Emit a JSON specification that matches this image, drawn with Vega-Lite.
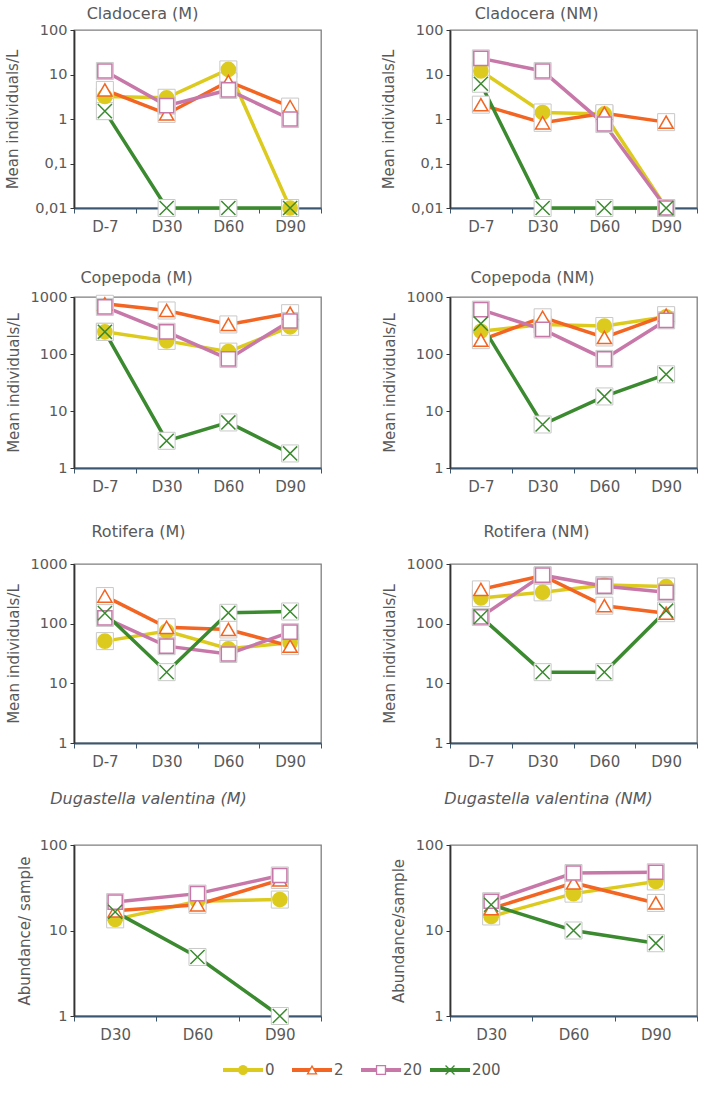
{
  "$schema": "https://vega.github.io/schema/vega-lite/v6.json",
  "padding": {"left": 5, "top": 5, "right": 5, "bottom": 5},
  "background": "white",
  "config": {
    "font": "DejaVu Sans",
    "view": {"stroke": "#7f7f7f", "strokeWidth": 1.3},
    "title": {"fontSize": 16, "fontWeight": "normal", "color": "#595959", "font": "DejaVu Sans", "frame": "group", "anchor": "middle"},
    "axisY": {"domainColor": "#333333", "domainWidth": 1.8, "tickColor": "#333333", "tickSize": 4, "labelColor": "#595959", "labelFontSize": 14.5, "labelPadding": 3, "titleColor": "#595959", "titleFontSize": 15, "titleFontWeight": "normal", "titlePadding": 9, "grid": false},
    "axisX": {"domainColor": "#3b5670", "domainWidth": 1.8, "tickColor": "#3b5670", "tickSize": 5, "tickBand": "extent", "labelColor": "#595959", "labelFontSize": 15, "labelPadding": 6, "labelAngle": 0, "grid": false}
  },
  "datasets": {
    "main": [
      {"p":"CM","d":"D-7","g":"0","v":3.2},{"p":"CM","d":"D30","g":"0","v":3.0},{"p":"CM","d":"D60","g":"0","v":13},{"p":"CM","d":"D90","g":"0","v":0.01},
      {"p":"CM","d":"D-7","g":"2","v":4.5},{"p":"CM","d":"D30","g":"2","v":1.3},{"p":"CM","d":"D60","g":"2","v":7},{"p":"CM","d":"D90","g":"2","v":1.9},
      {"p":"CM","d":"D-7","g":"20","v":12},{"p":"CM","d":"D30","g":"20","v":2.0},{"p":"CM","d":"D60","g":"20","v":4.5},{"p":"CM","d":"D90","g":"20","v":1.0},
      {"p":"CM","d":"D-7","g":"200","v":1.5},{"p":"CM","d":"D30","g":"200","v":0.01},{"p":"CM","d":"D60","g":"200","v":0.01},{"p":"CM","d":"D90","g":"200","v":0.01},

      {"p":"CNM","d":"D-7","g":"0","v":12},{"p":"CNM","d":"D30","g":"0","v":1.4},{"p":"CNM","d":"D60","g":"0","v":1.3},{"p":"CNM","d":"D90","g":"0","v":0.01},
      {"p":"CNM","d":"D-7","g":"2","v":2.1},{"p":"CNM","d":"D30","g":"2","v":0.82},{"p":"CNM","d":"D60","g":"2","v":1.35},{"p":"CNM","d":"D90","g":"2","v":0.85},
      {"p":"CNM","d":"D-7","g":"20","v":23},{"p":"CNM","d":"D30","g":"20","v":12},{"p":"CNM","d":"D60","g":"20","v":0.77},{"p":"CNM","d":"D90","g":"20","v":0.01},
      {"p":"CNM","d":"D-7","g":"200","v":6.2},{"p":"CNM","d":"D30","g":"200","v":0.01},{"p":"CNM","d":"D60","g":"200","v":0.01},{"p":"CNM","d":"D90","g":"200","v":0.01},

      {"p":"PM","d":"D-7","g":"0","v":245},{"p":"PM","d":"D30","g":"0","v":170},{"p":"PM","d":"D60","g":"0","v":110},{"p":"PM","d":"D90","g":"0","v":300},
      {"p":"PM","d":"D-7","g":"2","v":760},{"p":"PM","d":"D30","g":"2","v":580},{"p":"PM","d":"D60","g":"2","v":330},{"p":"PM","d":"D90","g":"2","v":520},
      {"p":"PM","d":"D-7","g":"20","v":670},{"p":"PM","d":"D30","g":"20","v":245},{"p":"PM","d":"D60","g":"20","v":82},{"p":"PM","d":"D90","g":"20","v":380},
      {"p":"PM","d":"D-7","g":"200","v":245},{"p":"PM","d":"D30","g":"200","v":3.0},{"p":"PM","d":"D60","g":"200","v":6.3},{"p":"PM","d":"D90","g":"200","v":1.8},

      {"p":"PNM","d":"D-7","g":"0","v":250},{"p":"PNM","d":"D30","g":"0","v":330},{"p":"PNM","d":"D60","g":"0","v":310},{"p":"PNM","d":"D90","g":"0","v":450},
      {"p":"PNM","d":"D-7","g":"2","v":175},{"p":"PNM","d":"D30","g":"2","v":440},{"p":"PNM","d":"D60","g":"2","v":195},{"p":"PNM","d":"D90","g":"2","v":480},
      {"p":"PNM","d":"D-7","g":"20","v":600},{"p":"PNM","d":"D30","g":"20","v":270},{"p":"PNM","d":"D60","g":"20","v":82},{"p":"PNM","d":"D90","g":"20","v":390},
      {"p":"PNM","d":"D-7","g":"200","v":340},{"p":"PNM","d":"D30","g":"200","v":5.8},{"p":"PNM","d":"D60","g":"200","v":18},{"p":"PNM","d":"D90","g":"200","v":44},

      {"p":"RM","d":"D-7","g":"0","v":51},{"p":"RM","d":"D30","g":"0","v":75},{"p":"RM","d":"D60","g":"0","v":38},{"p":"RM","d":"D90","g":"0","v":48},
      {"p":"RM","d":"D-7","g":"2","v":290},{"p":"RM","d":"D30","g":"2","v":87},{"p":"RM","d":"D60","g":"2","v":80},{"p":"RM","d":"D90","g":"2","v":42},
      {"p":"RM","d":"D-7","g":"20","v":125},{"p":"RM","d":"D30","g":"20","v":42},{"p":"RM","d":"D60","g":"20","v":31},{"p":"RM","d":"D90","g":"20","v":72},
      {"p":"RM","d":"D-7","g":"200","v":150},{"p":"RM","d":"D30","g":"200","v":15.4},{"p":"RM","d":"D60","g":"200","v":152},{"p":"RM","d":"D90","g":"200","v":160},

      {"p":"RNM","d":"D-7","g":"0","v":270},{"p":"RNM","d":"D30","g":"0","v":335},{"p":"RNM","d":"D60","g":"0","v":445},{"p":"RNM","d":"D90","g":"0","v":420},
      {"p":"RNM","d":"D-7","g":"2","v":375},{"p":"RNM","d":"D30","g":"2","v":640},{"p":"RNM","d":"D60","g":"2","v":200},{"p":"RNM","d":"D90","g":"2","v":150},
      {"p":"RNM","d":"D-7","g":"20","v":130},{"p":"RNM","d":"D30","g":"20","v":650},{"p":"RNM","d":"D60","g":"20","v":425},{"p":"RNM","d":"D90","g":"20","v":335},
      {"p":"RNM","d":"D-7","g":"200","v":130},{"p":"RNM","d":"D30","g":"200","v":15.4},{"p":"RNM","d":"D60","g":"200","v":15.4},{"p":"RNM","d":"D90","g":"200","v":165},

      {"p":"DM","d":"D30","g":"0","v":13.5},{"p":"DM","d":"D60","g":"0","v":22},{"p":"DM","d":"D90","g":"0","v":23},
      {"p":"DM","d":"D30","g":"2","v":17},{"p":"DM","d":"D60","g":"2","v":20},{"p":"DM","d":"D90","g":"2","v":39},
      {"p":"DM","d":"D30","g":"20","v":21.5},{"p":"DM","d":"D60","g":"20","v":27},{"p":"DM","d":"D90","g":"20","v":44},
      {"p":"DM","d":"D30","g":"200","v":16.5},{"p":"DM","d":"D60","g":"200","v":4.9},{"p":"DM","d":"D90","g":"200","v":1},

      {"p":"DNM","d":"D30","g":"0","v":14.6},{"p":"DNM","d":"D60","g":"0","v":27},{"p":"DNM","d":"D90","g":"0","v":37.5},
      {"p":"DNM","d":"D30","g":"2","v":18},{"p":"DNM","d":"D60","g":"2","v":36},{"p":"DNM","d":"D90","g":"2","v":21},
      {"p":"DNM","d":"D30","g":"20","v":22},{"p":"DNM","d":"D60","g":"20","v":47},{"p":"DNM","d":"D90","g":"20","v":48},
      {"p":"DNM","d":"D30","g":"200","v":20},{"p":"DNM","d":"D60","g":"200","v":10},{"p":"DNM","d":"D90","g":"200","v":7.1}
    ],
    "leg": [{"g":"0"},{"g":"2"},{"g":"20"},{"g":"200"}]
  },
  "data": {"name": "main"},
  "spacing": 10,
  "vconcat": [
    {
      "bounds": "flush",
      "spacing": 129,
      "hconcat": [
        {
          "title": {"text": "Cladocera (M)", "dx": -55, "offset": 0},
          "width": 247, "height": 178,
          "transform": [{"filter": "datum.p === 'CM'"}],
          "encoding": {
            "x": {"field": "d", "type": "nominal", "sort": ["D-7","D30","D60","D90"], "bandPosition": 0.5, "scale": {"type": "band", "paddingInner": 0, "paddingOuter": 0}, "axis": {"title": null}},
            "y": {"field": "v", "type": "quantitative", "scale": {"type": "log", "domain": [0.01, 100], "nice": false}, "axis": {"title": "Mean individuals/L", "titlePadding": 14, "values": [0.01, 0.1, 1, 10, 100], "labelExpr": "replace(format(datum.value,'~g'),'.',',')"}}
          },
          "layer": [
            {"mark": {"type": "line", "strokeWidth": 3.5}, "encoding": {"stroke": {"field": "g", "type": "nominal", "scale": {"domain": ["0","2","20","200"], "range": ["#dccb1e","#f26522","#c778a9","#3b8a30"]}, "legend": null}}},
            {"mark": {"type": "point", "shape": "square", "size": 290, "filled": true, "fill": "#ffffff", "stroke": "#c9c9c9", "strokeWidth": 1, "opacity": 1}, "encoding": {"detail": {"field": "g", "type": "nominal"}}},
            {"mark": {"type": "point", "filled": true, "opacity": 1, "strokeWidth": 1.5, "size": 200}, "encoding": {
              "shape": {"field": "g", "type": "nominal", "scale": {"domain": ["0","2","20","200"], "range": ["circle","triangle-up","square","M-1,-1L1,1M-1,1L1,-1"]}, "legend": null},
              "stroke": {"field": "g", "type": "nominal", "scale": {"domain": ["0","2","20","200"], "range": ["#dccb1e","#f26522","#c778a9","#3b8a30"]}, "legend": null},
              "fill": {"field": "g", "type": "nominal", "scale": {"domain": ["0","2","20","200"], "range": ["#dccb1e","#ffffff","#ffffff","#ffffff"]}, "legend": null}}}
          ]
        },
        {
          "title": {"text": "Cladocera (NM)", "dx": -37, "offset": 0},
          "width": 247, "height": 178,
          "transform": [{"filter": "datum.p === 'CNM'"}],
          "encoding": {
            "x": {"field": "d", "type": "nominal", "sort": ["D-7","D30","D60","D90"], "bandPosition": 0.5, "scale": {"type": "band", "paddingInner": 0, "paddingOuter": 0}, "axis": {"title": null}},
            "y": {"field": "v", "type": "quantitative", "scale": {"type": "log", "domain": [0.01, 100], "nice": false}, "axis": {"title": "Mean individuals/L", "titlePadding": 14, "values": [0.01, 0.1, 1, 10, 100], "labelExpr": "replace(format(datum.value,'~g'),'.',',')"}}
          },
          "layer": [
            {"mark": {"type": "line", "strokeWidth": 3.5}, "encoding": {"stroke": {"field": "g", "type": "nominal", "scale": {"domain": ["0","2","20","200"], "range": ["#dccb1e","#f26522","#c778a9","#3b8a30"]}, "legend": null}}},
            {"mark": {"type": "point", "shape": "square", "size": 290, "filled": true, "fill": "#ffffff", "stroke": "#c9c9c9", "strokeWidth": 1, "opacity": 1}, "encoding": {"detail": {"field": "g", "type": "nominal"}}},
            {"mark": {"type": "point", "filled": true, "opacity": 1, "strokeWidth": 1.5, "size": 200}, "encoding": {
              "shape": {"field": "g", "type": "nominal", "scale": {"domain": ["0","2","20","200"], "range": ["circle","triangle-up","square","M-1,-1L1,1M-1,1L1,-1"]}, "legend": null},
              "stroke": {"field": "g", "type": "nominal", "scale": {"domain": ["0","2","20","200"], "range": ["#dccb1e","#f26522","#c778a9","#3b8a30"]}, "legend": null},
              "fill": {"field": "g", "type": "nominal", "scale": {"domain": ["0","2","20","200"], "range": ["#dccb1e","#ffffff","#ffffff","#ffffff"]}, "legend": null}}}
          ]
        }
      ]
    },
    {
      "bounds": "flush",
      "spacing": 129,
      "hconcat": [
        {
          "title": {"text": ["", "Copepoda (M)"], "lineHeight": 24, "dx": -61, "offset": 3},
          "width": 247, "height": 171,
          "transform": [{"filter": "datum.p === 'PM'"}],
          "encoding": {
            "x": {"field": "d", "type": "nominal", "sort": ["D-7","D30","D60","D90"], "bandPosition": 0.5, "scale": {"type": "band", "paddingInner": 0, "paddingOuter": 0}, "axis": {"title": null}},
            "y": {"field": "v", "type": "quantitative", "scale": {"type": "log", "domain": [1, 1000], "nice": false}, "axis": {"title": "Mean individuals/L", "values": [1, 10, 100, 1000], "labelExpr": "replace(format(datum.value,'~g'),'.',',')"}}
          },
          "layer": [
            {"mark": {"type": "line", "strokeWidth": 3.5}, "encoding": {"stroke": {"field": "g", "type": "nominal", "scale": {"domain": ["0","2","20","200"], "range": ["#dccb1e","#f26522","#c778a9","#3b8a30"]}, "legend": null}}},
            {"mark": {"type": "point", "shape": "square", "size": 290, "filled": true, "fill": "#ffffff", "stroke": "#c9c9c9", "strokeWidth": 1, "opacity": 1}, "encoding": {"detail": {"field": "g", "type": "nominal"}}},
            {"mark": {"type": "point", "filled": true, "opacity": 1, "strokeWidth": 1.5, "size": 200}, "encoding": {
              "shape": {"field": "g", "type": "nominal", "scale": {"domain": ["0","2","20","200"], "range": ["circle","triangle-up","square","M-1,-1L1,1M-1,1L1,-1"]}, "legend": null},
              "stroke": {"field": "g", "type": "nominal", "scale": {"domain": ["0","2","20","200"], "range": ["#dccb1e","#f26522","#c778a9","#3b8a30"]}, "legend": null},
              "fill": {"field": "g", "type": "nominal", "scale": {"domain": ["0","2","20","200"], "range": ["#dccb1e","#ffffff","#ffffff","#ffffff"]}, "legend": null}}}
          ]
        },
        {
          "title": {"text": ["", "Copepoda (NM)"], "lineHeight": 24, "dx": -41, "offset": 3},
          "width": 247, "height": 171,
          "transform": [{"filter": "datum.p === 'PNM'"}],
          "encoding": {
            "x": {"field": "d", "type": "nominal", "sort": ["D-7","D30","D60","D90"], "bandPosition": 0.5, "scale": {"type": "band", "paddingInner": 0, "paddingOuter": 0}, "axis": {"title": null}},
            "y": {"field": "v", "type": "quantitative", "scale": {"type": "log", "domain": [1, 1000], "nice": false}, "axis": {"title": "Mean individuals/L", "values": [1, 10, 100, 1000], "labelExpr": "replace(format(datum.value,'~g'),'.',',')"}}
          },
          "layer": [
            {"mark": {"type": "line", "strokeWidth": 3.5}, "encoding": {"stroke": {"field": "g", "type": "nominal", "scale": {"domain": ["0","2","20","200"], "range": ["#dccb1e","#f26522","#c778a9","#3b8a30"]}, "legend": null}}},
            {"mark": {"type": "point", "shape": "square", "size": 290, "filled": true, "fill": "#ffffff", "stroke": "#c9c9c9", "strokeWidth": 1, "opacity": 1}, "encoding": {"detail": {"field": "g", "type": "nominal"}}},
            {"mark": {"type": "point", "filled": true, "opacity": 1, "strokeWidth": 1.5, "size": 200}, "encoding": {
              "shape": {"field": "g", "type": "nominal", "scale": {"domain": ["0","2","20","200"], "range": ["circle","triangle-up","square","M-1,-1L1,1M-1,1L1,-1"]}, "legend": null},
              "stroke": {"field": "g", "type": "nominal", "scale": {"domain": ["0","2","20","200"], "range": ["#dccb1e","#f26522","#c778a9","#3b8a30"]}, "legend": null},
              "fill": {"field": "g", "type": "nominal", "scale": {"domain": ["0","2","20","200"], "range": ["#dccb1e","#ffffff","#ffffff","#ffffff"]}, "legend": null}}}
          ]
        }
      ]
    },
    {
      "bounds": "flush",
      "spacing": 129,
      "hconcat": [
        {
          "title": {"text": ["", "Rotifera (M)"], "lineHeight": 18, "dx": -59, "offset": 16},
          "width": 247, "height": 179,
          "transform": [{"filter": "datum.p === 'RM'"}],
          "encoding": {
            "x": {"field": "d", "type": "nominal", "sort": ["D-7","D30","D60","D90"], "bandPosition": 0.5, "scale": {"type": "band", "paddingInner": 0, "paddingOuter": 0}, "axis": {"title": null}},
            "y": {"field": "v", "type": "quantitative", "scale": {"type": "log", "domain": [1, 1000], "nice": false}, "axis": {"title": "Mean individuals/L", "values": [1, 10, 100, 1000], "labelExpr": "replace(format(datum.value,'~g'),'.',',')"}}
          },
          "layer": [
            {"mark": {"type": "line", "strokeWidth": 3.5}, "encoding": {"stroke": {"field": "g", "type": "nominal", "scale": {"domain": ["0","2","20","200"], "range": ["#dccb1e","#f26522","#c778a9","#3b8a30"]}, "legend": null}}},
            {"mark": {"type": "point", "shape": "square", "size": 290, "filled": true, "fill": "#ffffff", "stroke": "#c9c9c9", "strokeWidth": 1, "opacity": 1}, "encoding": {"detail": {"field": "g", "type": "nominal"}}},
            {"mark": {"type": "point", "filled": true, "opacity": 1, "strokeWidth": 1.5, "size": 200}, "encoding": {
              "shape": {"field": "g", "type": "nominal", "scale": {"domain": ["0","2","20","200"], "range": ["circle","triangle-up","square","M-1,-1L1,1M-1,1L1,-1"]}, "legend": null},
              "stroke": {"field": "g", "type": "nominal", "scale": {"domain": ["0","2","20","200"], "range": ["#dccb1e","#f26522","#c778a9","#3b8a30"]}, "legend": null},
              "fill": {"field": "g", "type": "nominal", "scale": {"domain": ["0","2","20","200"], "range": ["#dccb1e","#ffffff","#ffffff","#ffffff"]}, "legend": null}}}
          ]
        },
        {
          "title": {"text": ["", "Rotifera (NM)"], "lineHeight": 18, "dx": -37, "offset": 16},
          "width": 247, "height": 179,
          "transform": [{"filter": "datum.p === 'RNM'"}],
          "encoding": {
            "x": {"field": "d", "type": "nominal", "sort": ["D-7","D30","D60","D90"], "bandPosition": 0.5, "scale": {"type": "band", "paddingInner": 0, "paddingOuter": 0}, "axis": {"title": null}},
            "y": {"field": "v", "type": "quantitative", "scale": {"type": "log", "domain": [1, 1000], "nice": false}, "axis": {"title": "Mean individuals/L", "values": [1, 10, 100, 1000], "labelExpr": "replace(format(datum.value,'~g'),'.',',')"}}
          },
          "layer": [
            {"mark": {"type": "line", "strokeWidth": 3.5}, "encoding": {"stroke": {"field": "g", "type": "nominal", "scale": {"domain": ["0","2","20","200"], "range": ["#dccb1e","#f26522","#c778a9","#3b8a30"]}, "legend": null}}},
            {"mark": {"type": "point", "shape": "square", "size": 290, "filled": true, "fill": "#ffffff", "stroke": "#c9c9c9", "strokeWidth": 1, "opacity": 1}, "encoding": {"detail": {"field": "g", "type": "nominal"}}},
            {"mark": {"type": "point", "filled": true, "opacity": 1, "strokeWidth": 1.5, "size": 200}, "encoding": {
              "shape": {"field": "g", "type": "nominal", "scale": {"domain": ["0","2","20","200"], "range": ["circle","triangle-up","square","M-1,-1L1,1M-1,1L1,-1"]}, "legend": null},
              "stroke": {"field": "g", "type": "nominal", "scale": {"domain": ["0","2","20","200"], "range": ["#dccb1e","#f26522","#c778a9","#3b8a30"]}, "legend": null},
              "fill": {"field": "g", "type": "nominal", "scale": {"domain": ["0","2","20","200"], "range": ["#dccb1e","#ffffff","#ffffff","#ffffff"]}, "legend": null}}}
          ]
        }
      ]
    },
    {
      "bounds": "flush",
      "spacing": 129,
      "hconcat": [
        {
          "title": {"text": ["", "Dugastella  valentina (M)"], "lineHeight": 10, "dx": -49, "offset": 30, "fontStyle": "italic"},
          "width": 247, "height": 171,
          "transform": [{"filter": "datum.p === 'DM'"}],
          "encoding": {
            "x": {"field": "d", "type": "nominal", "sort": ["D30","D60","D90"], "bandPosition": 0.5, "scale": {"type": "band", "paddingInner": 0, "paddingOuter": 0}, "axis": {"title": null}},
            "y": {"field": "v", "type": "quantitative", "scale": {"type": "log", "domain": [1, 100], "nice": false}, "axis": {"title": "Abundance/ sample", "titlePadding": 7, "values": [1, 10, 100], "labelExpr": "replace(format(datum.value,'~g'),'.',',')"}}
          },
          "layer": [
            {"mark": {"type": "line", "strokeWidth": 3.5}, "encoding": {"stroke": {"field": "g", "type": "nominal", "scale": {"domain": ["0","2","20","200"], "range": ["#dccb1e","#f26522","#c778a9","#3b8a30"]}, "legend": null}}},
            {"mark": {"type": "point", "shape": "square", "size": 290, "filled": true, "fill": "#ffffff", "stroke": "#c9c9c9", "strokeWidth": 1, "opacity": 1}, "encoding": {"detail": {"field": "g", "type": "nominal"}}},
            {"mark": {"type": "point", "filled": true, "opacity": 1, "strokeWidth": 1.5, "size": 200}, "encoding": {
              "shape": {"field": "g", "type": "nominal", "scale": {"domain": ["0","2","20","200"], "range": ["circle","triangle-up","square","M-1,-1L1,1M-1,1L1,-1"]}, "legend": null},
              "stroke": {"field": "g", "type": "nominal", "scale": {"domain": ["0","2","20","200"], "range": ["#dccb1e","#f26522","#c778a9","#3b8a30"]}, "legend": null},
              "fill": {"field": "g", "type": "nominal", "scale": {"domain": ["0","2","20","200"], "range": ["#dccb1e","#ffffff","#ffffff","#ffffff"]}, "legend": null}}}
          ]
        },
        {
          "title": {"text": ["", "Dugastella valentina (NM)"], "lineHeight": 10, "dx": -25, "offset": 30, "fontStyle": "italic"},
          "width": 247, "height": 171,
          "transform": [{"filter": "datum.p === 'DNM'"}],
          "encoding": {
            "x": {"field": "d", "type": "nominal", "sort": ["D30","D60","D90"], "bandPosition": 0.5, "scale": {"type": "band", "paddingInner": 0, "paddingOuter": 0}, "axis": {"title": null}},
            "y": {"field": "v", "type": "quantitative", "scale": {"type": "log", "domain": [1, 100], "nice": false}, "axis": {"title": "Abundance/sample", "values": [1, 10, 100], "labelExpr": "replace(format(datum.value,'~g'),'.',',')"}}
          },
          "layer": [
            {"mark": {"type": "line", "strokeWidth": 3.5}, "encoding": {"stroke": {"field": "g", "type": "nominal", "scale": {"domain": ["0","2","20","200"], "range": ["#dccb1e","#f26522","#c778a9","#3b8a30"]}, "legend": null}}},
            {"mark": {"type": "point", "shape": "square", "size": 290, "filled": true, "fill": "#ffffff", "stroke": "#c9c9c9", "strokeWidth": 1, "opacity": 1}, "encoding": {"detail": {"field": "g", "type": "nominal"}}},
            {"mark": {"type": "point", "filled": true, "opacity": 1, "strokeWidth": 1.5, "size": 200}, "encoding": {
              "shape": {"field": "g", "type": "nominal", "scale": {"domain": ["0","2","20","200"], "range": ["circle","triangle-up","square","M-1,-1L1,1M-1,1L1,-1"]}, "legend": null},
              "stroke": {"field": "g", "type": "nominal", "scale": {"domain": ["0","2","20","200"], "range": ["#dccb1e","#f26522","#c778a9","#3b8a30"]}, "legend": null},
              "fill": {"field": "g", "type": "nominal", "scale": {"domain": ["0","2","20","200"], "range": ["#dccb1e","#ffffff","#ffffff","#ffffff"]}, "legend": null}}}
          ]
        }
      ]
    },
    {
      "width": 425, "height": 34,
      "view": {"stroke": null},
      "data": {"name": "leg"},
      "encoding": {"x": {"field": "g", "type": "nominal", "sort": ["0","2","20","200"], "scale": {"type": "band", "paddingInner": 0, "paddingOuter": 0, "range": [149, 425]}, "axis": null}},
      "layer": [
        {"mark": {"type": "rule", "strokeWidth": 4}, "encoding": {
          "x": {"field": "g", "type": "nominal", "sort": ["0","2","20","200"], "bandPosition": 0},
          "x2": {"field": "g", "bandPosition": 0.58},
          "stroke": {"field": "g", "type": "nominal", "scale": {"domain": ["0","2","20","200"], "range": ["#dccb1e","#f26522","#c778a9","#3b8a30"]}, "legend": null}}},
        {"mark": {"type": "point", "filled": true, "opacity": 1, "strokeWidth": 1.3, "size": 80}, "encoding": {
          "x": {"field": "g", "type": "nominal", "sort": ["0","2","20","200"], "bandPosition": 0.29},
          "shape": {"field": "g", "type": "nominal", "scale": {"domain": ["0","2","20","200"], "range": ["circle","triangle-up","square","M-1,-1L1,1M-1,1L1,-1"]}, "legend": null},
          "stroke": {"field": "g", "type": "nominal", "scale": {"domain": ["0","2","20","200"], "range": ["#dccb1e","#f26522","#c778a9","#3b8a30"]}, "legend": null},
          "fill": {"field": "g", "type": "nominal", "scale": {"domain": ["0","2","20","200"], "range": ["#dccb1e","#ffffff","#ffffff","#ffffff"]}, "legend": null}}},
        {"mark": {"type": "text", "align": "left", "baseline": "middle", "fontSize": 15, "color": "#595959", "dx": 2}, "encoding": {
          "x": {"field": "g", "type": "nominal", "sort": ["0","2","20","200"], "bandPosition": 0.58},
          "text": {"field": "g"}}}
      ]
    }
  ]
}
